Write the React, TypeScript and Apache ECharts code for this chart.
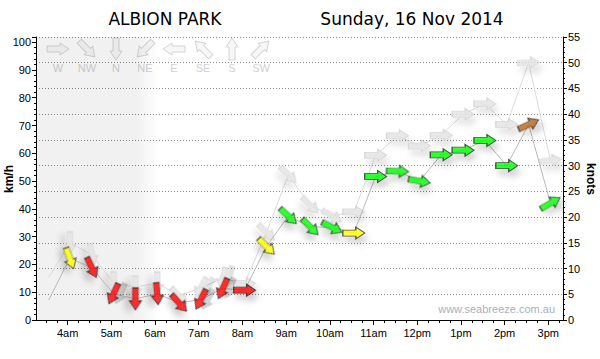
import React, { useEffect, useRef } from "react";
import * as echarts from "echarts";

// Observation times (local) and winds in knots
const times = ["03:34", "04:03", "04:33", "05:03", "05:33", "06:03", "06:33", "07:03", "07:33", "08:03", "08:33", "09:03", "09:33", "10:03", "10:33", "11:03", "11:33", "12:03", "12:33", "13:03", "13:33", "14:03", "14:33", "15:03"];
const avgKnots = [3.9, 12.0, 10.2, 5.1, 4.1, 5.1, 3.3, 4.0, 6.1, 5.8, 14.3, 20.2, 18.1, 18.0, 16.9, 27.9, 28.9, 27.0, 32.1, 33.0, 34.9, 30.0, 38.0, 22.7];
const gustKnots = [8.3, 15.0, 12.7, 7.2, 6.4, 7.2, 4.7, 6.3, 8.1, 7.1, 17.0, 28.2, 22.3, 20.2, 21.0, 32.0, 35.8, 33.8, 35.9, 40.0, 42.0, 38.0, 50.0, 31.0];
// Direction the wind comes from, degrees (null = no arrow)
const avgDir: (number | null)[] = [null, 340, 335, 25, 0, 355, 318, 27, 24, 270, 315, 313, 315, 297, 270, 270, 272, 280, 270, 270, 270, 270, 245, 240];
const gustDir: (number | null)[] = [null, 0, 350, 0, 0, 0, 315, 30, 15, 270, 315, 315, 315, 300, 270, 270, 270, 270, 270, 270, 270, 270, 268, 262];

const hourTicks = [4, 5, 6, 7, 8, 9, 10, 11, 12, 13, 14, 15];
const hourLabels = ["4am", "5am", "6am", "7am", "8am", "9am", "10am", "11am", "12pm", "1pm", "2pm", "3pm"];
const compassLabels = ["W", "NW", "N", "NE", "E", "SE", "S", "SW"];
const compassDirs = [270, 315, 0, 45, 90, 135, 180, 225];

const X_MIN = 3.275;
const X_MAX = 15.337;
const NIGHT_END = 6.07;
const KMH_PER_KNOT = 1.852;
const FONT = "'Liberation Sans', Arial, sans-serif";

const toHours = (s: string) => {
  const [h, m] = s.split(":").map(Number);
  return h + m / 60;
};
const tx = times.map(toHours);

const arrowSymbol = "path://M0,3 L13,3 L13,0 L22,6 L13,12 L13,9 L0,9 Z";
echarts.graphic.registerShape(
  "windArrow",
  echarts.graphic.extendPath("M-11,-3 L2,-3 L2,-6 L11,0 L2,6 L2,3 L-11,3 Z", {})
);

const speedColor = (kn: number) => {
  const kmh = kn * KMH_PER_KNOT;
  if (kmh < 20) return "#ff0000";
  if (kmh < 32) return "#ffff00";
  if (kmh < 67) return "#00ff00";
  return "#b5651d";
};

function arrowItems(vals: number[], dirs: (number | null)[], colored: boolean) {
  return vals.map((v, i) => {
    const d = dirs[i];
    if (d == null) return { value: [tx[i], v], symbol: "none" };
    return {
      value: [tx[i], v],
      symbolRotate: -90 - d,
      itemStyle: colored
        ? { color: speedColor(v), borderColor: "#2a2a2a", borderWidth: 1 }
        : { color: "#e4e4e4", borderColor: "#d2d2d2", borderWidth: 1 },
    };
  });
}

const quarterTicks: number[] = [];
for (let q = Math.ceil(X_MIN * 4); q <= Math.floor(X_MAX * 4); q++) quarterTicks.push(q / 4);

export default function App() {
  const ref = useRef<HTMLDivElement>(null);
  useEffect(() => {
    document.body.style.margin = "0";
    if (!ref.current) return;
    const chart = echarts.init(ref.current, undefined, { renderer: "svg" });

    const legendGraphics: any[] = [];
    compassLabels.forEach((lab, i) => {
      const cx = 58 + i * 29;
      legendGraphics.push({
        type: "windArrow",
        x: cx,
        y: 49,
        rotation: ((-90 - compassDirs[i]) * Math.PI) / 180,
        style: { fill: "#f7f7f7", stroke: "#d4d4d4", lineWidth: 1 },
        silent: true,
      });
      legendGraphics.push({
        type: "text",
        x: cx,
        y: 68,
        style: { text: lab, fill: "#d0d0d0", fontSize: 11, fontFamily: FONT, align: "center", verticalAlign: "middle" },
        silent: true,
      });
    });

    const shadow = { shadowColor: "rgba(0,0,0,0.22)", shadowBlur: 6, shadowOffsetX: 3, shadowOffsetY: 6 };
    const axisNameStyle = { fill: "#000", fontSize: 12, fontWeight: "bold", fontFamily: FONT, align: "center", verticalAlign: "middle" };

    chart.setOption({
      animation: false,
      grid: { left: 36, right: 37, top: 37, bottom: 39, containLabel: false, outerBoundsMode: "none" },
      xAxis: [
        {
          type: "value",
          min: X_MIN,
          max: X_MAX,
          position: "bottom",
          axisLine: { show: true, lineStyle: { color: "#000", width: 1 } },
          axisTick: { show: true, customValues: hourTicks, length: 5, lineStyle: { color: "#000" } },
          axisLabel: {
            customValues: hourTicks,
            formatter: (v: number) => hourLabels[hourTicks.indexOf(Math.round(v))] ?? "",
            color: "#000",
            fontSize: 11,
            fontFamily: FONT,
            margin: 7,
          },
          splitLine: { show: false },
        },
        {
          type: "value",
          min: X_MIN,
          max: X_MAX,
          position: "bottom",
          axisLine: { show: false },
          axisTick: { show: true, customValues: quarterTicks, length: 3, lineStyle: { color: "#000" } },
          axisLabel: { show: false },
          splitLine: { show: false },
        },
      ],
      yAxis: [
        {
          type: "value",
          position: "left",
          min: 0,
          max: 55 * KMH_PER_KNOT,
          interval: 10,
          axisLine: { show: true, lineStyle: { color: "#000" } },
          axisTick: { show: true, length: 4, lineStyle: { color: "#000" } },
          minorTick: { show: true, splitNumber: 5, length: 2, lineStyle: { color: "#000" } },
          axisLabel: {
            formatter: (v: number) => (Math.abs(v % 10) < 1e-6 ? String(v) : ""),
            color: "#000",
            fontSize: 11,
            fontFamily: FONT,
            margin: 5,
          },
          splitLine: { show: false },
        },
        {
          type: "value",
          position: "right",
          min: 0,
          max: 55,
          interval: 5,
          axisLine: { show: true, lineStyle: { color: "#000" } },
          axisTick: { show: true, length: 4, lineStyle: { color: "#000" } },
          minorTick: { show: true, splitNumber: 5, length: 2, lineStyle: { color: "#000" } },
          axisLabel: { color: "#000", fontSize: 11, fontFamily: FONT, margin: 5 },
          splitLine: { show: true, lineStyle: { type: [1, 2], color: "#8c8c8c", width: 1 } },
        },
      ],
      graphic: [
        {
          type: "text",
          x: 165,
          y: 19,
          style: { text: "ALBION PARK", fill: "#000", fontSize: 17, fontFamily: "'DejaVu Sans', sans-serif", align: "center", verticalAlign: "middle" },
        },
        {
          type: "text",
          x: 412,
          y: 19,
          style: { text: "Sunday, 16 Nov 2014", fill: "#000", fontSize: 17, fontFamily: "'DejaVu Sans', sans-serif", align: "center", verticalAlign: "middle" },
        },
        {
          type: "text",
          x: 555,
          y: 309,
          style: { text: "www.seabreeze.com.au", fill: "#a9afc0", fontSize: 11, fontFamily: FONT, align: "right", verticalAlign: "middle" },
        },
        { type: "text", x: 9, y: 179, rotation: Math.PI / 2, style: { ...axisNameStyle, text: "km/h" } },
        { type: "text", x: 591, y: 179, rotation: -Math.PI / 2, style: { ...axisNameStyle, text: "knots" } },
        ...legendGraphics,
      ],
      series: [
        {
          name: "Gust line",
          type: "line",
          yAxisIndex: 1,
          symbol: "none",
          z: 1,
          lineStyle: { color: "#dcdcdc", width: 1 },
          data: gustKnots.map((v, i) => [tx[i], v]),
          markArea: {
            silent: true,
            itemStyle: {
              color: new echarts.graphic.LinearGradient(0, 0, 1, 0, [
                { offset: 0, color: "rgba(0,0,0,0.055)" },
                { offset: 0.83, color: "rgba(0,0,0,0.055)" },
                { offset: 1, color: "rgba(0,0,0,0)" },
              ]),
            },
            data: [[{ xAxis: X_MIN }, { xAxis: NIGHT_END }]],
          },
        },
        {
          name: "Gust",
          type: "scatter",
          yAxisIndex: 1,
          z: 2,
          symbol: arrowSymbol,
          symbolSize: [22, 12],
          itemStyle: { ...shadow, shadowColor: "rgba(0,0,0,0.14)" },
          data: arrowItems(gustKnots, gustDir, false),
        },
        {
          name: "Average line",
          type: "line",
          yAxisIndex: 1,
          symbol: "none",
          z: 3,
          lineStyle: { color: "#b9b9b9", width: 1 },
          data: avgKnots.map((v, i) => [tx[i], v]),
        },
        {
          name: "Average",
          type: "scatter",
          yAxisIndex: 1,
          z: 4,
          symbol: arrowSymbol,
          symbolSize: [22, 12],
          itemStyle: shadow,
          data: arrowItems(avgKnots, avgDir, true),
        },
      ],
    });
    return () => chart.dispose();
  }, []);
  return <div ref={ref} style={{ width: 600, height: 359 }} />;
}
